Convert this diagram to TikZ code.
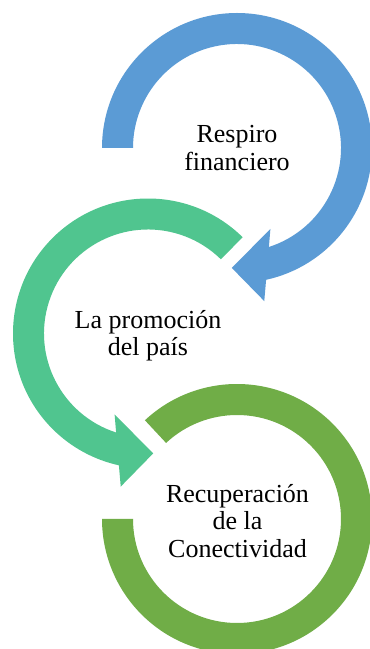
\documentclass[tikz,border=0pt]{standalone}
\usepackage{fontspec}
\setmainfont{Liberation Serif}
\definecolor{cblue}{HTML}{5B9BD5}
\definecolor{cgreen}{RGB}{80,197,143}
\definecolor{colive}{HTML}{70AD47}
\begin{document}
\begin{tikzpicture}[
  lbl/.style={align=center, font=\fontsize{26pt}{27.5pt}\selectfont, text=black, inner sep=0pt}
]
\useasboundingbox (0pt,0pt) rectangle (370pt,649pt);
\clip (0pt,0pt) rectangle (370pt,649pt);
\fill[white] (0pt,0pt) rectangle (370pt,649pt);
% blue circular arrow (clockwise)
\begin{scope}[shift={(237pt,501pt)}]
\fill[cblue] (180:135pt) arc[start angle=180, end angle=-77.55, radius=135pt]
  -- (-79.9:155.5pt) -- (-92.5:120pt) -- (-67.6:87.6pt) -- (-72.15:104pt)
  arc[start angle=-72.15, end angle=180, radius=104pt] -- cycle;
\end{scope}
% green circular arrow (counter-clockwise)
\begin{scope}[shift={(148pt,315.5pt)}]
\fill[cgreen] (45.5:135pt) arc[start angle=45.5, end angle=257.55, radius=135pt]
  -- (259.9:155.5pt) -- (272.5:120pt) -- (247.6:87.6pt) -- (252.15:104pt)
  arc[start angle=252.15, end angle=45.5, radius=104pt] -- cycle;
\end{scope}
% olive ring (no head)
\begin{scope}[shift={(237pt,130pt)}]
\fill[colive] (133:135pt) arc[start angle=133, end angle=-180, radius=135pt]
  -- (180:104pt) arc[start angle=-180, end angle=133, radius=104pt] -- cycle;
\end{scope}
\node[lbl] (t1) at (237pt,501pt) {Respiro\\financiero};
\node[lbl] (t2) at (148pt,313.5pt) {La promoción\\del país};
\node[lbl] (t3) at (237.5pt,128pt) {Recuperación\\de la\\Conectividad};
\end{tikzpicture}
\end{document}
